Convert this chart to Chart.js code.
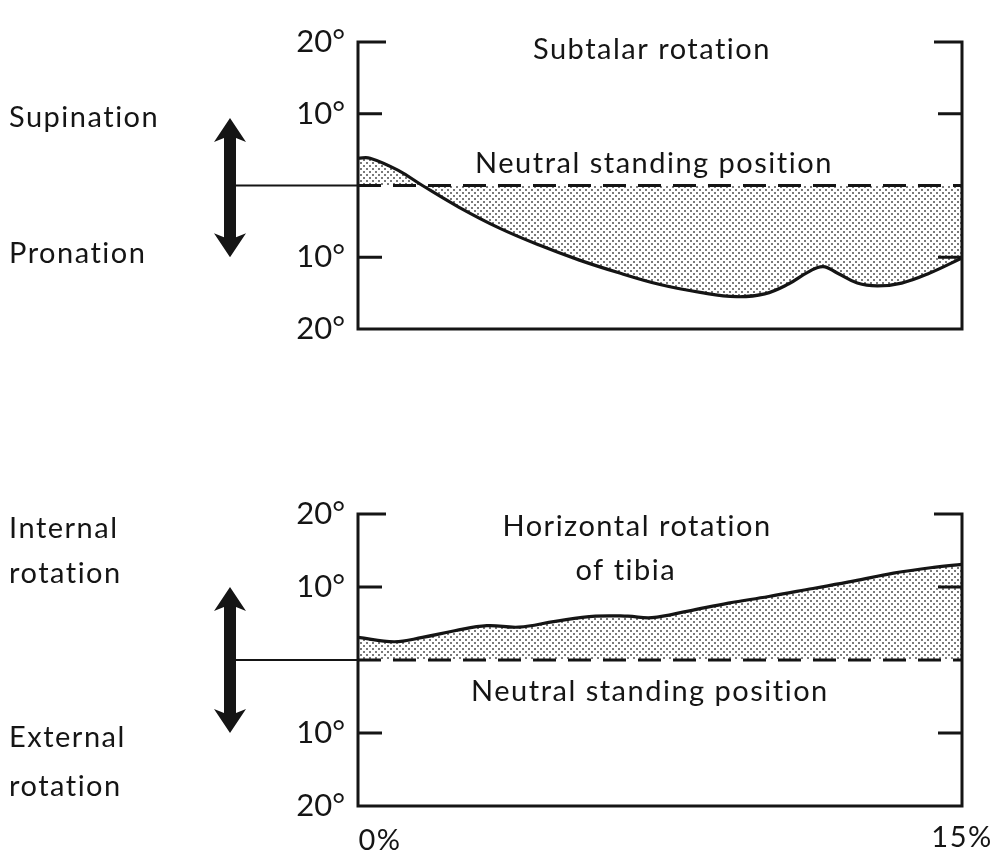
<!DOCTYPE html>
<html>
<head>
<meta charset="utf-8">
<script src="https://cdn.jsdelivr.net/npm/chart.js@4.4.1/dist/chart.umd.min.js"></script>
<style>
  html, body { margin: 0; padding: 0; background: #fff; }
  #wrap { position: relative; width: 992px; height: 854px; }
  .box { position: absolute; left: 0; width: 992px; }
  #top { top: 0; height: 420px; }
  #bottom { top: 420px; height: 434px; }
</style>
</head>
<body>
<div id="wrap">
  <div class="box" id="top"><canvas id="chart1"></canvas></div>
  <div class="box" id="bottom"><canvas id="chart2"></canvas></div>
</div>
<script>
// % of gait cycle (x) and degrees from neutral (y)
// subtalar: + = supination, - = pronation
var subtalarX = [0, 0.3, 1, 1.6, 2.5, 3.5, 4.5, 5.5, 6.5, 7.5, 8.5, 9.4, 10.1, 10.7, 11.2, 11.55, 11.9, 12.4, 12.9, 13.5, 14.2, 15];
var subtalarY = [3.8, 3.8, 2.1, 0, -3.0, -5.9, -8.3, -10.4, -12.2, -13.8, -14.9, -15.5, -15.1, -13.7, -12.0, -11.3, -12.2, -13.6, -14.0, -13.6, -12.2, -10.1];

// tibia: + = internal, - = external
var tibiaX = [0, 0.9, 1.6, 2.4, 3.2, 4.0, 4.9, 5.9, 6.7, 7.3, 8.2, 9.2, 10.2, 11.3, 12.3, 13.3, 14.3, 15];
var tibiaY = [3.1, 2.5, 3.1, 4.0, 4.7, 4.5, 5.3, 6.0, 6.0, 5.8, 6.7, 7.8, 8.7, 9.8, 10.8, 11.9, 12.7, 13.1];

var yTicks = [-20, -10, 0, 10, 20];
var xTickLabels = ['0%', '15%'];

var FONT = 'Lato, "Noto Sans", sans-serif';
var INK = '#151515';

function toPoints(xs, ys) {
    return xs.map(function(x, i) { return { x: x, y: ys[i] }; });
}

// stipple fill
function stipple() {
    var c = document.createElement('canvas');
    c.width = 6; c.height = 6;
    var g = c.getContext('2d');
    g.fillStyle = '#ffffff';
    g.fillRect(0, 0, 6, 6);
    g.fillStyle = '#7a7a7a';
    g.fillRect(0, 0, 2, 2);
    g.fillRect(3, 3, 2, 2);
    return g.createPattern(c, 'repeat');
}

var framePlugin = {
    id: 'frame',
    afterDatasetsDraw: function(chart, args, opts) {
        var ctx = chart.ctx, a = chart.chartArea;
        var ys = chart.scales.y, xs = chart.scales.x;
        var y0 = ys.getPixelForValue(0);

        ctx.save();
        ctx.strokeStyle = INK;
        ctx.fillStyle = INK;

        // frame (brackets + axes)
        ctx.lineWidth = 3;
        ctx.lineJoin = 'miter';
        ctx.beginPath();
        ctx.moveTo(a.left + 28, a.top);
        ctx.lineTo(a.left, a.top);
        ctx.lineTo(a.left, a.bottom);
        ctx.lineTo(a.right, a.bottom);
        ctx.lineTo(a.right, a.top);
        ctx.lineTo(a.right - 28, a.top);
        yTicks.forEach(function(v) {
            if (Math.abs(v) !== 10) return;
            var p = ys.getPixelForValue(v);
            ctx.moveTo(a.left, p); ctx.lineTo(a.left + 24, p);
            ctx.moveTo(a.right, p); ctx.lineTo(a.right - 24, p);
        });
        ctx.stroke();

        // neutral line
        ctx.setLineDash([23, 12]);
        ctx.beginPath();
        ctx.moveTo(a.left, y0);
        ctx.lineTo(a.right, y0);
        ctx.stroke();
        ctx.setLineDash([]);

        ctx.lineWidth = 1.8;
        ctx.beginPath();
        ctx.moveTo(opts.arrowX, y0);
        ctx.lineTo(a.left, y0);
        ctx.stroke();

        // double arrow
        var t = ys.getPixelForValue(opts.arrowTop), b = ys.getPixelForValue(opts.arrowBottom);
        var x = opts.arrowX, hw = 16, hl = 24, sw = 6;
        ctx.beginPath();
        ctx.moveTo(x, t);
        ctx.lineTo(x + hw, t + hl);
        ctx.lineTo(x + sw, t + hl - 4);
        ctx.lineTo(x + sw, b - hl + 4);
        ctx.lineTo(x + hw, b - hl);
        ctx.lineTo(x, b);
        ctx.lineTo(x - hw, b - hl);
        ctx.lineTo(x - sw, b - hl + 4);
        ctx.lineTo(x - sw, t + hl - 4);
        ctx.lineTo(x - hw, t + hl);
        ctx.closePath();
        ctx.fill();

        // texts
        ctx.font = '29px ' + FONT;
        ctx.letterSpacing = '1.5px';
        ctx.textBaseline = 'middle';
        ctx.textAlign = 'center';
        opts.inner.forEach(function(s) {
            ctx.fillText(s.text, xs.getPixelForValue(s.x), ys.getPixelForValue(s.y));
        });
        ctx.textAlign = 'left';
        opts.side.forEach(function(s) {
            ctx.fillText(s.text, 9, ys.getPixelForValue(s.y));
        });
        if (opts.xLabels) {
            ctx.textAlign = 'center';
            ctx.fillText(xTickLabels[0], xs.getPixelForValue(0) + 22, a.bottom + 35);
            ctx.fillText(xTickLabels[1], xs.getPixelForValue(15), a.bottom + 32);
        }
        ctx.restore();
    }
};

function makeChart(id, points, pad, frameOpts) {
    var ctx = document.getElementById(id).getContext('2d');
    return new Chart(ctx, {
        type: 'line',
        data: {
            datasets: [{
                data: points,
                borderColor: INK,
                borderWidth: 3.2,
                backgroundColor: stipple(),
                fill: 'origin',
                pointRadius: 0,
                tension: 0.4
            }]
        },
        options: {
            responsive: true,
            maintainAspectRatio: false,
            animation: false,
            layout: { padding: pad },
            plugins: {
                legend: { display: false },
                tooltip: { enabled: false },
                frame: frameOpts
            },
            scales: {
                x: { type: 'linear', min: 0, max: 15, display: false },
                y: {
                    min: -20, max: 20,
                    afterFit: function(scale) { scale.width = 358; },
                    afterBuildTicks: function(scale) {
                        scale.ticks = yTicks.map(function(v) { return { value: v }; });
                    },
                    ticks: {
                        padding: 13,
                        color: INK,
                        font: { family: FONT, size: 31 },
                        callback: function(v) { return v === 0 ? '' : Math.abs(v) + '°'; }
                    },
                    grid: { display: false, drawTicks: false },
                    border: { display: false }
                }
            }
        },
        plugins: [framePlugin]
    });
}

makeChart('chart1', toPoints(subtalarX, subtalarY),
    { top: 42, bottom: 91, left: 0, right: 30 },
    {
        arrowX: 230, arrowTop: 9.4, arrowBottom: -10,
        inner: [
            { text: 'Subtalar rotation', x: 7.3, y: 18.9 },
            { text: 'Neutral standing position', x: 7.35, y: 3.0 }
        ],
        side: [
            { text: 'Supination', y: 9.4 },
            { text: 'Pronation', y: -9.5 }
        ],
        xLabels: false
    });

makeChart('chart2', toPoints(tibiaX, tibiaY),
    { top: 94, bottom: 48, left: 0, right: 30 },
    {
        arrowX: 230, arrowTop: 10, arrowBottom: -10,
        inner: [
            { text: 'Horizontal rotation', x: 6.93, y: 18.2 },
            { text: 'of tibia', x: 6.65, y: 12.2 },
            { text: 'Neutral standing position', x: 7.25, y: -4.3 }
        ],
        side: [
            { text: 'Internal', y: 18.0 },
            { text: 'rotation', y: 11.8 },
            { text: 'External', y: -10.7 },
            { text: 'rotation', y: -17.4 }
        ],
        xLabels: true
    });
</script>
</body>
</html>
